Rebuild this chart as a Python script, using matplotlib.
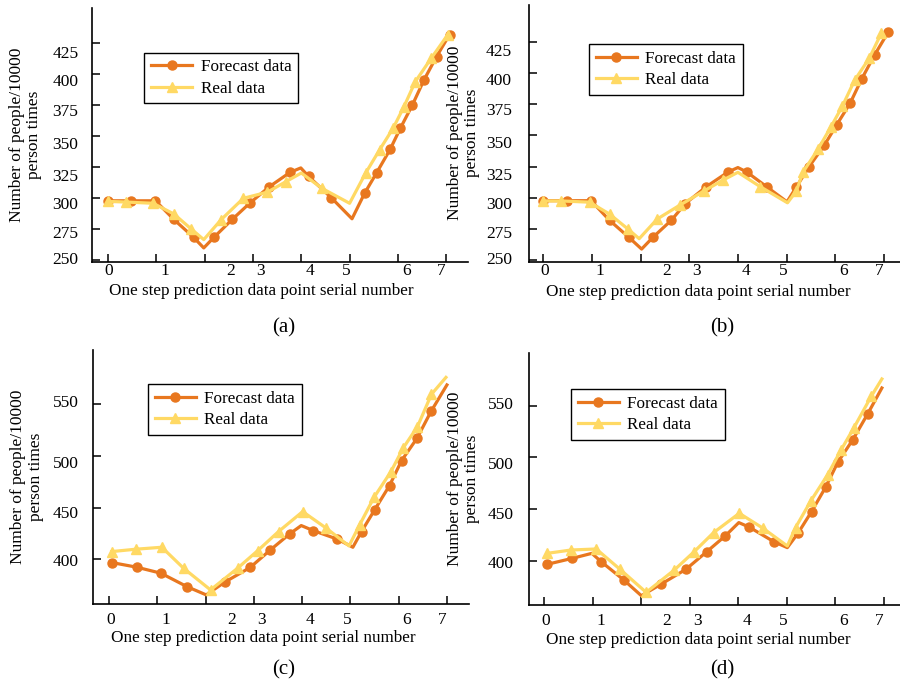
import matplotlib
matplotlib.use("Agg")
import matplotlib.pyplot as plt

plt.rcParams['font.family'] = ['Liberation Serif', 'DejaVu Serif']
plt.rcParams['font.size'] = 12

# ---- data (x in units of the axis ticks) ----
# (a)
a_fore_x = [0, 0.48, 0.98, 1.36, 1.77, 1.98, 2.19, 2.57, 2.93, 3.34, 3.77, 3.99, 4.15, 4.62,
            5.05, 5.31, 5.56, 5.84, 6.05, 6.3, 6.54, 6.8, 7.07]
a_fore_y = [298, 298, 298, 283, 268.5, 260, 268.5, 283, 296, 309.4, 321, 324.5, 317.7, 300.5,
            283.5, 304, 320.6, 339.5, 356.4, 375.2, 395.4, 414.2, 432]
a_real_x = [0, 0.36, 0.93, 1.36, 1.72, 1.98, 2.34, 2.8, 3.3, 3.68, 4.0, 4.43, 5.0, 5.33,
            5.62, 5.9, 6.12, 6.36, 6.69, 7.03]
a_real_y = [297.5, 297, 296, 287.4, 275.3, 266.7, 282.8, 300, 305, 313.4, 320.4, 308, 296,
            320.2, 339, 356.4, 373.4, 394, 412.9, 431.7]
# (b)
b_fore_x = [0, 0.48, 0.98, 1.36, 1.76, 2.02, 2.25, 2.63, 2.92, 3.34, 3.8, 4.0, 4.18, 4.6,
            5.01, 5.2, 5.46, 5.78, 6.03, 6.31, 6.55, 6.81, 7.09]
b_fore_y = [297.7, 297.7, 297.7, 282, 268.3, 259, 268.3, 282, 295.4, 308.6, 320.7, 324.2,
            320.7, 308.6, 296.8, 308.5, 324.7, 342.2, 358.3, 375.8, 395.4, 414.2, 432.5]
b_real_x = [0, 0.36, 0.95, 1.36, 1.74, 1.97, 2.34, 2.8, 3.3, 3.7, 4.0, 4.46, 5.02, 5.2,
            5.34, 5.65, 5.91, 6.15, 6.4, 6.7, 6.95]
b_real_y = [297.5, 297.5, 296.5, 287, 275, 267.3, 283, 294, 305.4, 314.3, 320.4, 308.9, 296,
            305.3, 320.6, 339, 356.5, 373.4, 394, 411.5, 431.7]
# (c)
c_fore_x = [0.05, 0.57, 1.07, 1.61, 2.01, 2.39, 2.92, 3.34, 3.74, 3.98, 4.23, 4.73, 5.05,
            5.23, 5.5, 5.81, 6.06, 6.38, 6.67, 7.0]
c_fore_y = [396.8, 392.3, 386.5, 373.5, 365.5, 377.7, 392, 409, 424.5, 432.6, 427.7, 419.4,
            411.6, 426.8, 447.7, 471.3, 495.5, 517.1, 543, 568.7]
c_real_x = [0.05, 0.55, 1.09, 1.54, 2.1, 2.66, 3.08, 3.51, 4.01, 4.5, 4.97, 5.19, 5.49,
            5.84, 6.09, 6.39, 6.68, 6.98]
c_real_y = [407.4, 409.7, 411.6, 391.3, 370.3, 391.3, 408.4, 426.8, 446.1, 430, 412.9,
            433.2, 460, 484.8, 507.4, 528.4, 559.7, 576]
# (d)
d_fore_x = [0.06, 0.58, 0.98, 1.17, 1.64, 2.0, 2.4, 2.92, 3.35, 3.73, 4.01, 4.23, 4.73,
            5.01, 5.23, 5.51, 5.8, 6.05, 6.36, 6.67, 6.96]
d_fore_y = [396.8, 402.6, 407.4, 399.4, 381.6, 366.5, 377.4, 392, 409, 424.2, 437.1, 432.6,
            418.7, 412.9, 426.8, 447.7, 471.3, 495.2, 517.1, 542.3, 567.1]
d_real_x = [0.06, 0.55, 1.07, 1.56, 2.1, 2.68, 3.09, 3.49, 4.02, 4.51, 5.01, 5.18, 5.5,
            5.84, 6.12, 6.38, 6.74, 6.96]
d_real_y = [407.4, 410.6, 411.6, 392, 369.7, 391.3, 409, 427.4, 446.1, 431.6, 414.5,
            432.3, 458.4, 483.2, 507.4, 528.4, 559, 575.8]

x_labels = ['0', '1', '2', '3', '4', '5', '6', '7']
y_labels_top = ['250', '275', '300', '325', '350', '375', '400', '425']
y_labels_bot = ['400', '450', '500', '550']

# labels in the original sit a bit off their ticks
x_label_pos = [0.02, 1.17, 2.53, 3.15, 4.17, 4.93, 6.17, 6.9]
y_label_pos_top = [251.6, 273, 296, 318.8, 344.3, 371.2, 395.4, 418.2]
y_label_pos_bot = [399.5, 446, 494.5, 553]

fore_col = '#E8771F'
real_col = '#FFD964'

fig = plt.figure(figsize=(9, 6.84), dpi=100)


def panel(rect, fx, fy, fskip, rx, ry, rskip, xlim, ylim, yt, ylab, ylabpos,
          leg_xy, ypad, xpad, xlab_y, tag, tag_xy):
    ax = fig.add_axes(rect)
    ax.plot(fx, fy, color=fore_col, lw=2.3, marker='o', ms=6.5,
            markevery=[i for i in range(len(fx)) if i not in fskip], label='Forecast data')
    ax.plot(rx, ry, color=real_col, lw=2.3, marker='^', ms=7.5,
            markevery=[i for i in range(len(rx)) if i not in rskip], label='Real data')
    ax.set_xlim(*xlim)
    ax.set_ylim(*ylim)
    for s in ['top', 'right']:
        ax.spines[s].set_visible(False)
    for s in ['left', 'bottom']:
        ax.spines[s].set_linewidth(1.2)

    ax.set_xticks(range(8))
    ax.set_xticklabels([])
    ax.set_xticks(x_label_pos, minor=True)
    ax.set_xticklabels(x_labels, minor=True)
    ax.set_yticks(yt)
    ax.set_yticklabels([])
    ax.set_yticks(ylabpos, minor=True)
    ax.set_yticklabels(ylab, minor=True)
    ax.tick_params(which='major', direction='in', length=6, width=1.1)
    ax.tick_params(which='minor', length=0)
    ax.tick_params(axis='y', which='minor', pad=ypad, labelsize=12.5)
    ax.tick_params(axis='x', which='minor', pad=xpad, labelsize=12.5)

    ax.set_xlabel('One step prediction data point serial number', fontsize=12.3)
    ax.xaxis.set_label_coords(0.452, xlab_y)
    ax.xaxis.label.set_va('center')
    ax.set_ylabel('Number of people/10000\nperson times', fontsize=12.5, linespacing=1.1)
    ax.yaxis.set_label_coords(-0.177, 0.5)
    ax.yaxis.label.set_va('center')

    leg = ax.legend(loc='upper left', bbox_to_anchor=leg_xy, borderaxespad=0,
                    fancybox=False, framealpha=1, edgecolor='black', handlelength=2.4,
                    handletextpad=0.5, labelspacing=0.3, borderpad=0.4, fontsize=12.3)
    leg.get_frame().set_linewidth(1.0)
    fig.text(tag_xy[0], tag_xy[1], tag, fontsize=15, ha='center', va='center')
    return ax


panel([0.1019, 0.6174, 0.418, 0.3705], a_fore_x, a_fore_y, [5, 11, 14],
      a_real_x, a_real_y, [5, 10, 12], (-0.34, 7.45), (248.9, 453.2),
      [250, 275, 300, 325, 350, 375, 400, 425], y_labels_top, y_label_pos_top,
      (0.14, 0.825), 9.6, 1.2, -0.116, '(a)', (284 / 900, 1 - 328 / 684))

panel([0.5881, 0.6174, 0.4144, 0.3758], b_fore_x, b_fore_y, [5, 11, 14],
      b_real_x, b_real_y, [5, 10, 12], (-0.29, 7.38), (248.9, 454.5),
      [250, 275, 300, 325, 350, 375, 400, 425], y_labels_top, y_label_pos_top,
      (0.16, 0.845), 12.5, 1.2, -0.116, '(b)', (722 / 900, 1 - 328 / 684))

panel([0.1037, 0.117, 0.417, 0.3713], c_fore_x, c_fore_y, [4, 9, 12, 19],
      c_real_x, c_real_y, [10, 17], (-0.33, 7.45), (356.7, 602.5),
      [400, 450, 500, 550], y_labels_bot, y_label_pos_bot,
      (0.145, 0.865), 10.8, 5.5, -0.135, '(c)', (284 / 900, 1 - 670 / 684))

panel([0.5881, 0.1155, 0.4144, 0.3689], d_fore_x, d_fore_y, [2, 5, 10, 13, 20],
      d_real_x, d_real_y, [10, 17], (-0.31, 7.38), (357.5, 601.2),
      [400, 450, 500, 550], y_labels_bot, y_label_pos_bot,
      (0.112, 0.857), 11.5, 5.5, -0.138, '(d)', (722 / 900, 1 - 670 / 684))

fig.savefig('out.png', dpi=100)
